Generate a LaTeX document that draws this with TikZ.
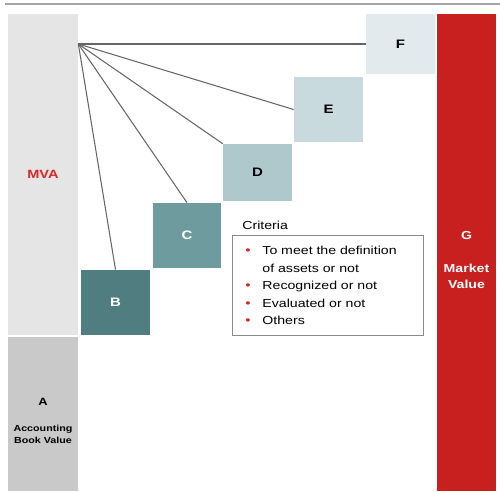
\documentclass[tikz,border=0pt]{standalone}
\usepackage{fontspec}
\setmainfont{Liberation Sans}[FakeStretch=1.22]
\usepackage{tikz}
\usetikzlibrary{positioning}

\definecolor{rulegray}{HTML}{A6A6A6}
\definecolor{mvagray}{HTML}{E5E5E5}
\definecolor{accgray}{HTML}{C9C9C9}
\definecolor{bteal}{HTML}{4F7D80}
\definecolor{cteal}{HTML}{6E9B9E}
\definecolor{dteal}{HTML}{AFC8CC}
\definecolor{eteal}{HTML}{C8DADE}
\definecolor{fteal}{HTML}{E2EAED}
\definecolor{mktred}{HTML}{C8201F}
\definecolor{mvared}{HTML}{DA2527}
\definecolor{fangray}{HTML}{666666}
\definecolor{boxgray}{HTML}{8A8A8A}

\newcommand{\critem}[1]{\makebox[0.34cm][l]{\textcolor{mvared}{\scriptsize\textbullet}}#1}

\begin{document}
\begin{tikzpicture}[x=0.02cm, y=-0.02cm]
        \tikzstyle{bar} = [rectangle, inner sep=0pt, minimum width=1.4cm, text centered]
        \tikzstyle{stepbox} = [rectangle, inner sep=0pt, minimum width=1.38cm, minimum height=1.3cm, text centered, font=\fontsize{7}{8}\selectfont\bfseries]
        \tikzstyle{fanline} = [draw=fangray, line width=0.6pt]
        \tikzstyle{barlabel} = [align=center, font=\fontsize{6.6}{9.1}\selectfont\bfseries]

        \useasboundingbox (0,0) rectangle (500,491);

        % Top rule
        \coordinate (rulel) at (5,4);
        \coordinate (ruler) at (500,4);
        \draw [rulegray, line width=1.2pt] (rulel) -- (ruler);

        % Bars
        \node (mva) [bar, fill=mvagray, minimum height=6.42cm, text=mvared, font=\fontsize{6.8}{8}\selectfont\bfseries] at (43,174.5) {MVA};
        \node (acc) [bar, fill=accgray, minimum height=3.08cm] at (43,414) {};
        \node (acclabel) [align=center, font=\fontsize{5}{6.8}\selectfont\bfseries] at (43,421) {{\fontsize{6}{7}\selectfont A}\\[8pt]Accounting\\Book Value};
        \node (mkt) [bar, fill=mktred, minimum width=1.18cm, minimum height=9.54cm] at (466.5,252.5) {};
        \node (mktlabel) [barlabel, text=white] at (466.5,260) {G\\[9.7pt]Market\\Value};

        % Steps
        \node (b) [stepbox, fill=bteal, text=white] at (115.5,302.5) {B};
        \node (c) [stepbox, fill=cteal, text=white] at (187,235.5) {C};
        \node (d) [stepbox, fill=dteal, minimum height=1.14cm] at (257.5,172.5) {D};
        \node (e) [stepbox, fill=eteal] at (328.5,109.5) {E};
        \node (f) [stepbox, fill=fteal, minimum height=1.2cm] at (400.5,44) {F};

        % Fan lines
        \coordinate (hub) at (mva.east |- f.west);
        \draw [fanline] (hub) -- (f.west);
        \draw [fanline] (hub) -- (e.west);
        \draw [fanline] (hub) -- (d.north west);
        \draw [fanline] (hub) -- (c.north);
        \draw [fanline] (hub) -- (b.north);

        % Criteria
        \node (crithead) [anchor=west, inner sep=0pt, font=\fontsize{6.6}{8}\selectfont] at (242,225) {Criteria};
        \node (critbox) [anchor=north west, draw=boxgray, line width=0.5pt, text width=3.3cm, inner xsep=0.26cm, minimum height=2cm, align=left, font=\fontsize{6.6}{10}\selectfont] at (232,235)
            {\critem{To meet the definition}\\
             \hspace*{0.34cm}of assets or not\\
             \critem{Recognized or not}\\
             \critem{Evaluated or not}\\
             \critem{Others}};
    \end{tikzpicture}
\end{document}
